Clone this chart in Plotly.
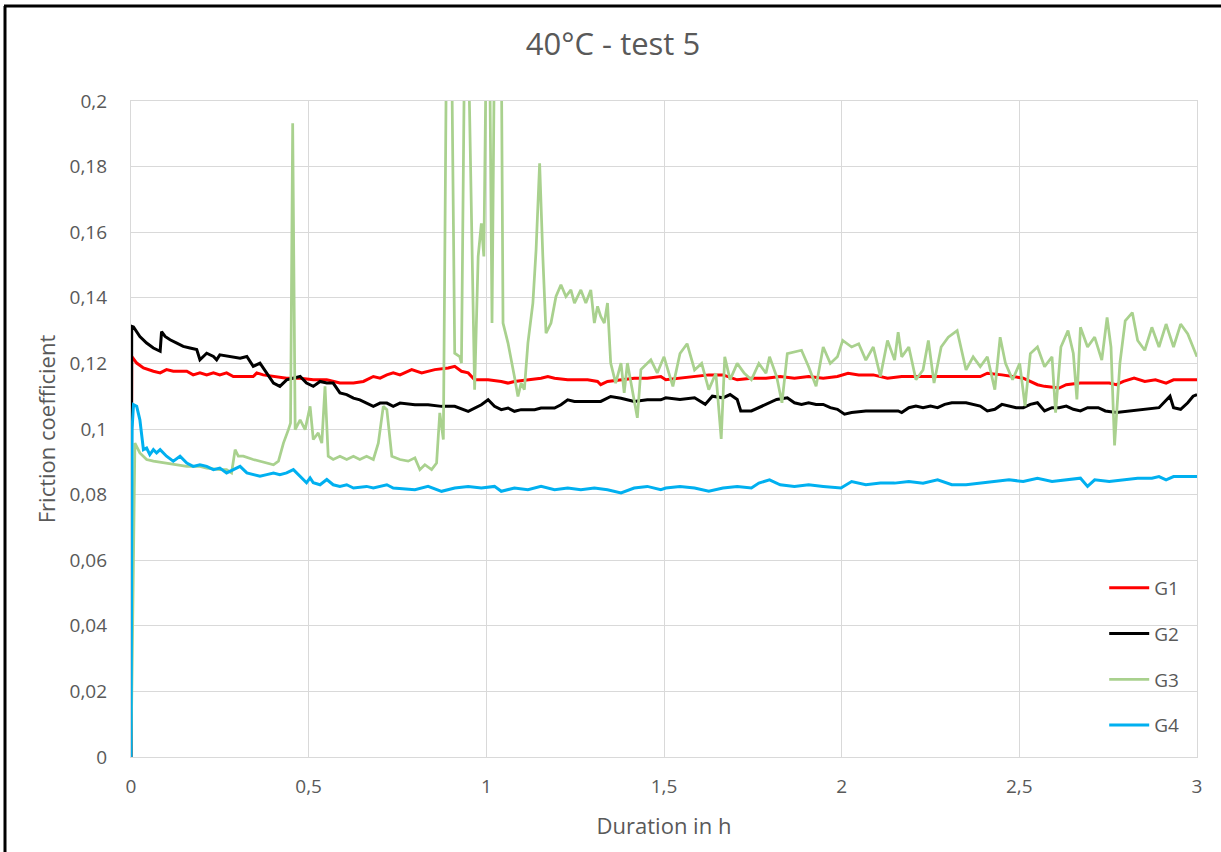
import plotly.graph_objects as go

# ---------------- data ----------------
g1_t = [0, 0.002, 0.016, 0.035, 0.063, 0.082, 0.100, 0.119, 0.157, 0.175, 0.194, 0.213, 0.232, 0.250,
        0.269, 0.288, 0.344, 0.354, 0.372, 0.401, 0.438, 0.476, 0.513, 0.551, 0.588, 0.626, 0.654,
        0.682, 0.701, 0.720, 0.738, 0.757, 0.790, 0.818, 0.855, 0.893, 0.911, 0.930, 0.949, 0.967,
        1.005, 1.042, 1.061, 1.079, 1.117, 1.154, 1.173, 1.192, 1.229, 1.285, 1.313, 1.322, 1.341,
        1.379, 1.416, 1.453, 1.491, 1.505, 1.545, 1.586, 1.626, 1.666, 1.706, 1.746, 1.787, 1.827,
        1.867, 1.907, 1.948, 1.988, 2.018, 2.048, 2.089, 2.129, 2.169, 2.270, 2.390, 2.410, 2.451,
        2.511, 2.531, 2.551, 2.571, 2.612, 2.632, 2.672, 2.712, 2.753, 2.773, 2.793, 2.823, 2.853,
        2.883, 2.913, 2.934, 2.974, 3.0]
g1_v = [0, 0.1221, 0.1201, 0.1186, 0.1176, 0.1171, 0.1181, 0.1176, 0.1176, 0.1165, 0.1171, 0.1165,
        0.1171, 0.1165, 0.1171, 0.1160, 0.1160, 0.1171, 0.1165, 0.1160, 0.1155, 0.1155, 0.1150,
        0.1150, 0.1140, 0.1140, 0.1145, 0.1160, 0.1155, 0.1165, 0.1171, 0.1165, 0.1181, 0.1171,
        0.1181, 0.1186, 0.1191, 0.1176, 0.1171, 0.1150, 0.1150, 0.1145, 0.1140, 0.1145, 0.1150,
        0.1155, 0.1160, 0.1155, 0.1150, 0.1150, 0.1145, 0.1135, 0.1145, 0.1150, 0.1155, 0.1155,
        0.1160, 0.1150, 0.1155, 0.1160, 0.1165, 0.1165, 0.1150, 0.1155, 0.1155, 0.1160, 0.1155,
        0.1160, 0.1155, 0.1160, 0.1170, 0.1165, 0.1165, 0.1155, 0.1160, 0.1160, 0.1160, 0.1170,
        0.1165, 0.1155, 0.1145, 0.1135, 0.1130, 0.1125, 0.1135, 0.1140, 0.1140, 0.1140, 0.1135,
        0.1145, 0.1155, 0.1145, 0.1150, 0.1140, 0.1150, 0.1150, 0.1150]

g2_t = [0, 0.002, 0.007, 0.025, 0.044, 0.063, 0.082, 0.086, 0.096, 0.110, 0.129, 0.147, 0.166, 0.185,
        0.194, 0.213, 0.232, 0.241, 0.250, 0.279, 0.307, 0.326, 0.344, 0.363, 0.382, 0.401, 0.419,
        0.438, 0.457, 0.476, 0.494, 0.513, 0.532, 0.551, 0.569, 0.588, 0.607, 0.626, 0.644, 0.663,
        0.682, 0.701, 0.720, 0.738, 0.757, 0.799, 0.836, 0.874, 0.911, 0.949, 0.986, 1.005, 1.023,
        1.042, 1.061, 1.079, 1.098, 1.136, 1.154, 1.192, 1.210, 1.229, 1.248, 1.285, 1.322, 1.350,
        1.379, 1.416, 1.453, 1.491, 1.505, 1.545, 1.586, 1.616, 1.636, 1.666, 1.686, 1.706, 1.716,
        1.746, 1.777, 1.797, 1.817, 1.847, 1.867, 1.887, 1.907, 1.928, 1.948, 1.968, 1.988, 2.008,
        2.028, 2.068, 2.109, 2.159, 2.169, 2.189, 2.209, 2.229, 2.250, 2.270, 2.290, 2.310, 2.350,
        2.370, 2.390, 2.410, 2.431, 2.451, 2.471, 2.491, 2.511, 2.531, 2.551, 2.571, 2.592, 2.612,
        2.632, 2.652, 2.672, 2.692, 2.722, 2.742, 2.773, 2.813, 2.853, 2.893, 2.924, 2.934, 2.954,
        2.974, 2.989, 3.0]
g2_v = [0, 0.1313, 0.1311, 0.1282, 0.1262, 0.1247, 0.1237, 0.1297, 0.1282, 0.1272, 0.1262, 0.1252,
        0.1247, 0.1242, 0.1211, 0.1231, 0.1221, 0.1211, 0.1226, 0.1221, 0.1216, 0.1221, 0.1191,
        0.1201, 0.1171, 0.1140, 0.1130, 0.1150, 0.1155, 0.1160, 0.1140, 0.1130, 0.1145, 0.1140,
        0.1140, 0.1110, 0.1105, 0.1094, 0.1089, 0.1079, 0.1069, 0.1079, 0.1079, 0.1069, 0.1079,
        0.1074, 0.1074, 0.1069, 0.1069, 0.1054, 0.1074, 0.1089, 0.1069, 0.1059, 0.1064, 0.1054,
        0.1059, 0.1059, 0.1064, 0.1064, 0.1074, 0.1089, 0.1084, 0.1084, 0.1084, 0.1099, 0.1094,
        0.1084, 0.1089, 0.1089, 0.1095, 0.1090, 0.1095, 0.1075, 0.1100, 0.1095, 0.1105, 0.1090,
        0.1055, 0.1055, 0.1070, 0.1080, 0.1090, 0.1095, 0.1080, 0.1075, 0.1080, 0.1075, 0.1075,
        0.1065, 0.1060, 0.1045, 0.1050, 0.1055, 0.1055, 0.1055, 0.1050, 0.1065, 0.1070, 0.1065,
        0.1070, 0.1065, 0.1075, 0.1080, 0.1080, 0.1075, 0.1070, 0.1055, 0.1060, 0.1075, 0.1070,
        0.1065, 0.1065, 0.1075, 0.1080, 0.1055, 0.1065, 0.1065, 0.1070, 0.1060, 0.1055, 0.1065,
        0.1065, 0.1055, 0.1050, 0.1055, 0.1060, 0.1065, 0.1100, 0.1065, 0.1060, 0.1080, 0.1100,
        0.1105]

g3_t = [0, 0.011, 0.025, 0.044, 0.063, 0.100, 0.138, 0.157, 0.194, 0.213, 0.250, 0.269, 0.283, 0.293,
        0.302, 0.316, 0.344, 0.363, 0.382, 0.401, 0.415, 0.429, 0.443, 0.449, 0.455, 0.462, 0.476,
        0.490, 0.504, 0.513, 0.527, 0.537, 0.546, 0.555, 0.569, 0.588, 0.607, 0.626, 0.644, 0.663,
        0.682, 0.696, 0.710, 0.720, 0.734, 0.757, 0.780, 0.799, 0.813, 0.827, 0.846, 0.860, 0.869,
        0.879, 0.888, 0.902, 0.911, 0.925, 0.930, 0.939, 0.949, 0.967, 0.977, 0.986, 0.993, 1.000,
        1.009, 1.016, 1.023, 1.042, 1.047, 1.061, 1.079, 1.089, 1.098, 1.107, 1.117, 1.131, 1.140,
        1.150, 1.159, 1.168, 1.182, 1.196, 1.210, 1.224, 1.238, 1.248, 1.266, 1.280, 1.294, 1.304,
        1.313, 1.322, 1.332, 1.341, 1.350, 1.364, 1.379, 1.388, 1.397, 1.411, 1.425, 1.435, 1.453,
        1.463, 1.481, 1.500, 1.525, 1.545, 1.565, 1.586, 1.606, 1.626, 1.646, 1.661, 1.671, 1.686,
        1.706, 1.726, 1.746, 1.767, 1.787, 1.797, 1.817, 1.832, 1.847, 1.887, 1.907, 1.928, 1.948,
        1.968, 1.988, 2.003, 2.028, 2.048, 2.068, 2.089, 2.109, 2.129, 2.149, 2.159, 2.169, 2.189,
        2.209, 2.229, 2.244, 2.260, 2.280, 2.300, 2.325, 2.340, 2.350, 2.370, 2.390, 2.410, 2.431,
        2.446, 2.461, 2.481, 2.501, 2.516, 2.531, 2.551, 2.571, 2.592, 2.602, 2.617, 2.637, 2.652,
        2.662, 2.672, 2.692, 2.712, 2.732, 2.747, 2.758, 2.768, 2.783, 2.798, 2.818, 2.833, 2.853,
        2.873, 2.893, 2.913, 2.934, 2.954, 2.974, 3.0]
g3_v = [0, 0.0957, 0.0927, 0.0907, 0.0902, 0.0896, 0.0891, 0.0886, 0.0886, 0.0881, 0.0876, 0.0876,
        0.0866, 0.0937, 0.0917, 0.0917, 0.0907, 0.0902, 0.0896, 0.0891, 0.0902, 0.0957, 0.0998,
        0.1018, 0.1932, 0.0998, 0.1028, 0.0998, 0.1069, 0.0968, 0.0988, 0.0957, 0.1130, 0.0917,
        0.0907, 0.0917, 0.0907, 0.0917, 0.0907, 0.0917, 0.0907, 0.0957, 0.1069, 0.1059, 0.0917,
        0.0907, 0.0902, 0.0912, 0.0876, 0.0891, 0.0876, 0.0896, 0.1049, 0.0968, 0.2200, 0.2200,
        0.1231, 0.1221, 0.1201, 0.2200, 0.2200, 0.1120, 0.1526, 0.1627, 0.1526, 0.2200, 0.2200,
        0.1323, 0.2200, 0.2200, 0.1323, 0.1262, 0.1160, 0.1099, 0.1140, 0.1120, 0.1262, 0.1384,
        0.1546, 0.1810, 0.1526, 0.1292, 0.1323, 0.1404, 0.1440, 0.1404, 0.1424, 0.1384, 0.1424,
        0.1384, 0.1424, 0.1323, 0.1374, 0.1343, 0.1323, 0.1384, 0.1201, 0.1140, 0.1201, 0.1110,
        0.1201, 0.1120, 0.1034, 0.1181, 0.1201, 0.1211, 0.1171, 0.1220, 0.1130, 0.1230, 0.1260,
        0.1180, 0.1200, 0.1120, 0.1170, 0.0970, 0.1220, 0.1150, 0.1200, 0.1170, 0.1150, 0.1200,
        0.1170, 0.1220, 0.1160, 0.1080, 0.1230, 0.1240, 0.1190, 0.1130, 0.1250, 0.1200, 0.1220,
        0.1270, 0.1250, 0.1260, 0.1210, 0.1250, 0.1160, 0.1270, 0.1210, 0.1295, 0.1220, 0.1250,
        0.1150, 0.1180, 0.1270, 0.1140, 0.1250, 0.1280, 0.1300, 0.1230, 0.1180, 0.1220, 0.1190,
        0.1220, 0.1120, 0.1280, 0.1200, 0.1150, 0.1200, 0.1070, 0.1230, 0.1250, 0.1190, 0.1220,
        0.1050, 0.1250, 0.1300, 0.1230, 0.1090, 0.1310, 0.1250, 0.1280, 0.1210, 0.1340, 0.1250,
        0.0950, 0.1200, 0.1330, 0.1355, 0.1270, 0.1240, 0.1310, 0.1250, 0.1320, 0.1250, 0.1320,
        0.1290, 0.1220]

g4_t = [0, 0.003, 0.007, 0.016, 0.025, 0.035, 0.044, 0.053, 0.063, 0.072, 0.082, 0.100, 0.119, 0.138,
        0.157, 0.175, 0.194, 0.213, 0.232, 0.250, 0.269, 0.288, 0.307, 0.326, 0.344, 0.363, 0.382,
        0.401, 0.419, 0.438, 0.457, 0.476, 0.494, 0.504, 0.513, 0.532, 0.551, 0.569, 0.588, 0.607,
        0.626, 0.663, 0.682, 0.720, 0.738, 0.799, 0.836, 0.874, 0.911, 0.949, 0.986, 1.023, 1.042,
        1.079, 1.117, 1.154, 1.192, 1.229, 1.266, 1.304, 1.341, 1.379, 1.416, 1.453, 1.491, 1.505,
        1.545, 1.586, 1.626, 1.666, 1.706, 1.746, 1.767, 1.797, 1.827, 1.867, 1.907, 1.948, 1.998,
        2.028, 2.068, 2.109, 2.149, 2.189, 2.229, 2.270, 2.310, 2.350, 2.390, 2.431, 2.471, 2.511,
        2.551, 2.592, 2.632, 2.672, 2.692, 2.712, 2.753, 2.793, 2.833, 2.873, 2.893, 2.913, 2.934,
        2.974, 3.0]
g4_v = [0, 0.1000, 0.1074, 0.1069, 0.1028, 0.0937, 0.0942, 0.0922, 0.0937, 0.0927, 0.0937, 0.0917,
        0.0902, 0.0917, 0.0896, 0.0886, 0.0891, 0.0886, 0.0876, 0.0881, 0.0866, 0.0876, 0.0886,
        0.0866, 0.0861, 0.0856, 0.0861, 0.0866, 0.0861, 0.0866, 0.0876, 0.0856, 0.0836, 0.0851,
        0.0836, 0.0830, 0.0846, 0.0830, 0.0825, 0.0830, 0.0820, 0.0825, 0.0820, 0.0830, 0.0820,
        0.0815, 0.0825, 0.0810, 0.0820, 0.0825, 0.0820, 0.0825, 0.0810, 0.0820, 0.0815, 0.0825,
        0.0815, 0.0820, 0.0815, 0.0820, 0.0815, 0.0805, 0.0820, 0.0825, 0.0815, 0.0820, 0.0825,
        0.0820, 0.0810, 0.0820, 0.0825, 0.0820, 0.0835, 0.0845, 0.0830, 0.0825, 0.0830, 0.0825,
        0.0820, 0.0840, 0.0830, 0.0835, 0.0835, 0.0840, 0.0835, 0.0845, 0.0830, 0.0830, 0.0835,
        0.0840, 0.0845, 0.0840, 0.0850, 0.0840, 0.0845, 0.0850, 0.0825, 0.0845, 0.0840, 0.0845,
        0.0850, 0.0850, 0.0855, 0.0845, 0.0855, 0.0855, 0.0855]

series_names = ["G1", "G2", "G3", "G4"]
y_tickvals = [0, 0.02, 0.04, 0.06, 0.08, 0.1, 0.12, 0.14, 0.16, 0.18, 0.2]
y_ticktext = ["0", "0,02", "0,04", "0,06", "0,08", "0,1", "0,12", "0,14", "0,16", "0,18", "0,2"]
x_tickvals = [0, 0.5, 1, 1.5, 2, 2.5, 3]
x_ticktext = ["0", "0,5", "1", "1,5", "2", "2,5", "3"]

# ---------------- figure ----------------
FONT = "Open Sans"
GRAY = "#595959"
styles = [("#ff0000", 3), ("#000000", 3), ("#a9d18e", 2.75), ("#00b0f0", 3)]
data = [(g1_t, g1_v), (g2_t, g2_v), (g3_t, g3_v), (g4_t, g4_v)]

fig = go.Figure()
for name, (t, v), (col, w) in zip(series_names, data, styles):
    fig.add_trace(go.Scatter(x=t, y=v, mode="lines", name=name, legendgroup=name,
                             line=dict(color=col, width=w)))

W, H = 1221, 852
L, R, T, B = 131, 24, 101, 95
pw, ph = W - L - R, H - T - B

fig.update_layout(
    width=W, height=H,
    margin=dict(l=L, r=R, t=T, b=B),
    paper_bgcolor="white", plot_bgcolor="white",
    font=dict(family=FONT, color=GRAY, size=19),
    title=dict(text="40°C - test 5", x=613 / W, xref="container", xanchor="center",
               y=1 - 44 / H, yref="container", yanchor="middle",
               font=dict(size=31, color=GRAY, family=FONT)),
    showlegend=True,
    legend=dict(x=0.988, xanchor="right", y=(H - B - 569) / ph, yanchor="top",
                bgcolor="rgba(0,0,0,0)", font=dict(size=19, color=GRAY, family=FONT),
                tracegroupgap=18, itemwidth=40),
    xaxis=dict(range=[0, 3], tickvals=x_tickvals, ticktext=x_ticktext,
               showgrid=True, gridcolor="#d9d9d9", gridwidth=1.3,
               showline=True, linecolor="#d9d9d9", linewidth=1.3, mirror=True,
               zeroline=False, ticks="", ticklabelstandoff=12,
               tickfont=dict(size=19, color=GRAY),
               title=dict(text="Duration in h", font=dict(size=22, color=GRAY), standoff=20)),
    yaxis=dict(range=[0, 0.2], tickvals=y_tickvals, ticktext=y_ticktext,
               showgrid=True, gridcolor="#d9d9d9", gridwidth=1.3,
               showline=True, linecolor="#d9d9d9", linewidth=1.3, mirror=True,
               zeroline=False, ticks="", ticklabelstandoff=19,
               tickfont=dict(size=19, color=GRAY),
               title=dict(text="Friction coefficient", font=dict(size=22, color=GRAY), standoff=7)),
)

# outer black frame (top and left edges of the screenshot)
px = lambda x: (x - L) / pw
py = lambda y: (H - B - y) / ph
fig.add_shape(type="line", xref="paper", yref="paper", x0=px(4), x1=px(W + 5), y0=py(6), y1=py(6),
              line=dict(color="black", width=3))
fig.add_shape(type="line", xref="paper", yref="paper", x0=px(5), x1=px(5), y0=py(6), y1=py(H + 5),
              line=dict(color="black", width=3))

fig.write_html("out.html", config={"displayModeBar": False},
               post_script="document.body.style.margin='0px';")
